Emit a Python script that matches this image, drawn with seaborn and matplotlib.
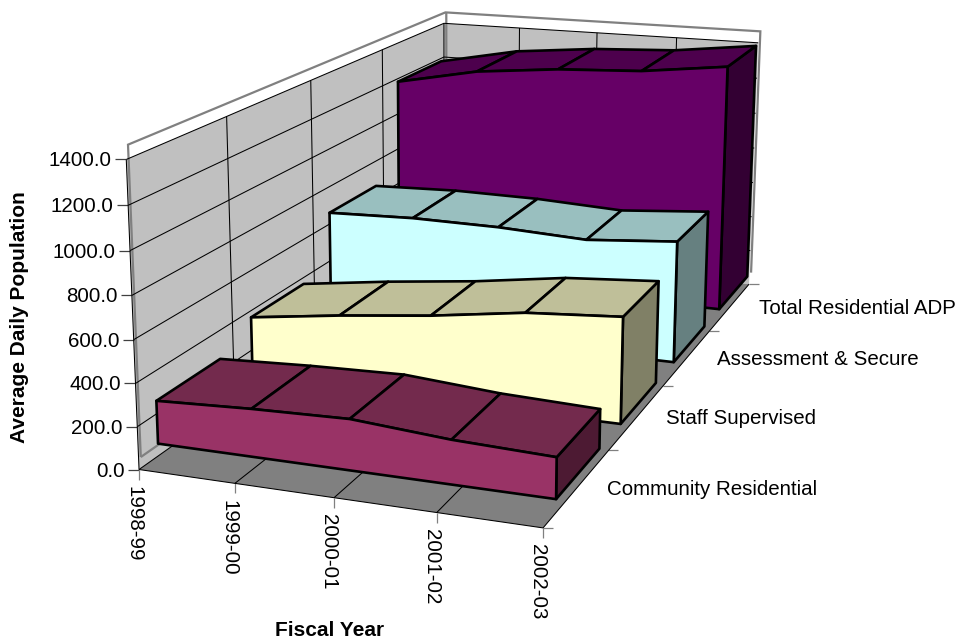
import numpy as np
import matplotlib
matplotlib.use('Agg')
import matplotlib.pyplot as plt
import seaborn as sns

sns.set_theme(style='white')
plt.rcParams['font.family'] = ['Liberation Sans', 'DejaVu Sans']

# data
years = ['1998-99', '1999-00', '2000-01', '2001-02', '2002-03']
series_names = ['Community Residential', 'Staff Supervised', 'Assessment & Secure', 'Total Residential ADP']
community = [206, 227, 240, 206, 190]
staff = [314, 375, 426, 492, 524]
assessment = [613, 627, 622, 600, 636]
total = [1144, 1234, 1278, 1300, 1355]
value_ticks = [0, 200, 400, 600, 800, 1000, 1200, 1400]

# colours (front, top, side)
colors = [('#993366', '#732A4D', '#4D1A33'),
          ('#FFFFCC', '#BFBF99', '#808066'),
          ('#CCFFFF', '#99BFBF', '#668080'),
          ('#660066', '#4D004D', '#330033')]
# depth of each block, front to back
depths = [(.083, .252), (.343, .508), (.599, .769), (.858, 1.04)]
# blocks sit slightly off the category positions
block_x = [-.04 + .254 * i for i in range(5)]

# camera fit: (x, depth, value) -> pixel, measured from the axes corners
cam_pts = [
    (0, 0, 0, 139.3, 469.3), (.25, 0, 0, 235, 484), (.5, 0, 0, 334.3, 497.7), (.75, 0, 0, 436.7, 513.3), (1, 0, 0, 543.3, 527.7),
    (1, .25, 0, 608, 450), (1, .5, 0, 662.7, 386), (1, .75, 0, 709.3, 331), (1, 1, 0, 749.3, 284),
    (0, 0, 1400, 126, 159.3), (0, 0, 1200, 128.3, 205.3), (0, 0, 1000, 130, 250.7), (0, 0, 800, 132, 295),
    (0, 0, 600, 134.3, 339.7), (0, 0, 400, 135, 383), (0, 0, 200, 137, 427),
    (0, 1, 1400, 444, 23.3), (.25, 1, 1400, 519, 28), (.5, 1, 1400, 597, 33), (.75, 1, 1400, 677, 38), (1, 1, 1400, 758.3, 42.7),
]
A, b = [], []
for x, d, v, u, w in cam_pts:
    v = v / 1400
    A.append([x, d, v, 1, 0, 0, 0, 0, -u*x, -u*d, -u*v])
    b.append(u)
    A.append([0, 0, 0, 0, x, d, v, 1, -w*x, -w*d, -w*v])
    b.append(w)
P = np.append(np.linalg.lstsq(np.array(A, float), np.array(b, float), rcond=None)[0], 1).reshape(3, 4)
P[:, 2] /= 1400


def proj(x, d, v):
    h = P @ np.array([x, d, v, 1.0])
    return h[0] / h[2], h[1] / h[2]


fig = plt.figure(figsize=(9.62, 6.41), dpi=100)
ax = fig.add_axes([0, 0, 1, 1])


def line(pts, color='black', lw=0.7, zorder=2):
    xs, ys = zip(*pts)
    sns.lineplot(x=list(xs), y=list(ys), sort=False, estimator=None, color=color, linewidth=lw,
                 zorder=zorder, ax=ax, solid_joinstyle='miter', solid_capstyle='butt')


def poly(pts, color, edge=None, zorder=1):
    ax.fill(*zip(*pts), facecolor=color, edgecolor=edge if edge else color,
            linewidth=1.9 if edge else 0, zorder=zorder, joinstyle='round')


# walls and floor
poly([proj(0, 0, 0), proj(0, 0, 1400), proj(0, 1, 1400), proj(0, 1, 0)], '#C0C0C0')
poly([proj(0, 1, 0), proj(0, 1, 1400), proj(1, 1, 1400), proj(1, 1, 0)], '#C0C0C0')
poly([proj(0, 0, 0), proj(1, 0, 0), proj(1, 1, 0), proj(0, 1, 0)], '#808080')

# wall slab outline
line([proj(.006, 0, 60), proj(.006, 0, 1465), proj(.005, 1, 1465), proj(1.005, 1, 1465), proj(1.005, 1, 70)], '#808080', 1.6)
line([proj(.006, 0, 60), proj(.006, 1, 60)], '#808080', 1.6)
line([proj(.008, 1, 1465), proj(.008, 1, 60)], '#808080', 1.6)

# gridlines
for v in value_ticks[1:]:
    line([proj(0, 0, v), proj(0, 1, v), proj(1, 1, v)], lw=0.75)
for d in (.25, .5, .75):
    line([proj(0, d, 0), proj(0, d, 1400)], lw=0.75)
for x in (.25, .5, .75):
    line([proj(x, 0, 0), proj(x, 1, 0), proj(x, 1, 1400)], lw=0.75)
line([proj(0, 1, 0), proj(0, 1, 1400)], lw=0.75)
line([proj(0, 0, 0), proj(0, 1, 0)], lw=0.75)
line([proj(1, 1, 0), proj(1, 0, 0), proj(0, 0, 0), proj(0, 0, 1400)], lw=0.75, zorder=3)

# value axis
for v in value_ticks:
    px, py = proj(0, 0, v)
    line([(px - 11, py), (px, py)], '#404040', 0.9)
    ax.text(px - 14.5, py + 1.5, f'{v:.1f}', ha='right', va='center', fontsize=14.8, color='black')

# category axis
for i, yr in enumerate(years):
    px, py = proj(i / 4, 0, 0)
    line([(px, py), (px, py + 10)], '#808080', 0.9)
    ax.text(px - 5.5, py + 16.5, yr, rotation=270, ha='center', va='top', fontsize=14.8, color='black')

# series axis
for i, name in enumerate(series_names):
    px, py = proj(1, (i + 1) / 4, 0)
    line([(px, py), (px + 10, py)], '#808080', 0.9)
    px, py = proj(1, (i + .5) / 4, 0)
    ax.text(px + 29.5, py + 2, name, ha='left', va='center', fontsize=14.8, color='black')
px, py = proj(1, 0, 0)
line([(px, py), (px + 10, py)], '#808080', 0.9)

ax.text(20, 317, 'Average Daily Population', rotation=90, ha='center', va='center', fontsize=15, fontweight='bold', color='black')
ax.text(330, 630, 'Fiscal Year', ha='center', va='center', fontsize=15, fontweight='bold', color='black')

# blocks, back to front
all_values = [community, staff, assessment, total]
for k in (3, 2, 1, 0):
    vals = all_values[k]
    front, top, side = colors[k]
    d0, d1 = depths[k]
    z = 10 + (3 - k)
    f_pts = [proj(x, d0, 0) for x in (block_x[0], block_x[-1])]
    f_pts += [proj(x, d0, v) for x, v in zip(block_x[::-1], vals[::-1])]
    poly([proj(block_x[-1], d0, 0), proj(block_x[-1], d1, 0), proj(block_x[-1], d1, vals[-1]), proj(block_x[-1], d0, vals[-1])],
         side, 'black', z)
    for i in range(4):
        poly([proj(block_x[i], d0, vals[i]), proj(block_x[i + 1], d0, vals[i + 1]),
              proj(block_x[i + 1], d1, vals[i + 1]), proj(block_x[i], d1, vals[i])], top, 'black', z)
    poly(f_pts, front, 'black', z)

ax.set_xlim(0, 962)
ax.set_ylim(641, 0)
ax.axis('off')
fig.savefig('out.png', dpi=100)
